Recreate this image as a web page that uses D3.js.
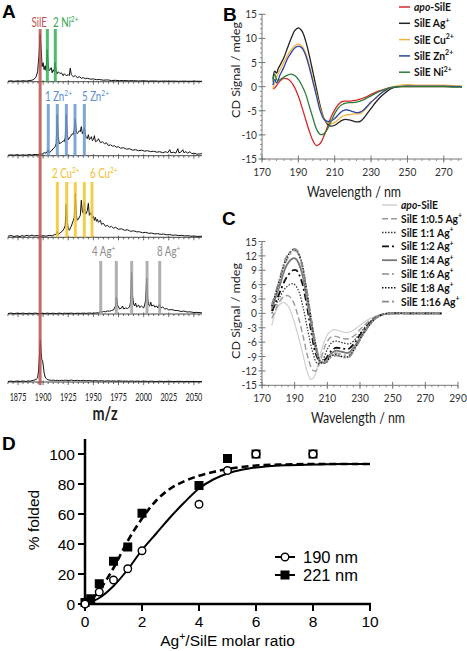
<!DOCTYPE html>
<html><head><meta charset="utf-8">
<script src="https://cdn.jsdelivr.net/npm/d3@7"></script>
<style>body{margin:0;background:#fff}svg{display:block}</style>
</head><body>
<svg id="c" width="467" height="651"></svg>
<script>
// ================= DATA =================
// Panel A: mass spectra (m/z, relative intensity)
const mzTicks = [1875,1900,1925,1950,1975,2000,2025,2050];
const traceNi = [[1865,0.5],[1868,0.9],[1871,0.4],[1874,0.8],[1877,0.5],[1880,1.0],[1883,0.6],[1886,1.1],[1889,1.5],[1891,2.5],[1893,5],[1894.5,10],[1896,28],[1897,48],[1898,33],[1899,15],[1900,19],[1901,12],[1902,16],[1903,11],[1904,32],[1905,17],[1906,11],[1907,12],[1908,14],[1909,9],[1910,12],[1911,10],[1912,19],[1913,10],[1914,8],[1915,10],[1917,8],[1918,9],[1920,6],[1921,8],[1923,6],[1925,7],[1926,6],[1927,13.5],[1928,7],[1930,5],[1932,6],[1934,4],[1936,5],[1938,3.5],[1940,4],[1942,3],[1944,3.5],[1947,2.5],[1950,2.8],[1953,2],[1956,2.2],[1960,1.5],[1964,1.8],[1968,1.2],[1972,1.4],[1976,1],[1980,1.2],[1985,0.9],[1990,1],[1995,0.7],[2000,0.9],[2005,0.6],[2010,0.8],[2015,0.5],[2020,0.7],[2025,0.5],[2030,0.6],[2035,0.4],[2040,0.6],[2045,0.4],[2050,0.5],[2058,0.4]];
const traceZn = [[1865,0.4],[1868,0.9],[1871,0.5],[1874,1],[1877,0.4],[1880,0.9],[1883,0.5],[1886,1.1],[1889,0.7],[1892,1.3],[1895,1],[1897,2],[1899,1.5],[1901,3],[1903,2.5],[1905,6],[1906,3],[1908,4.5],[1910,7],[1912,9],[1913,12],[1914,41],[1915,19],[1916,12],[1918,13],[1920,15],[1921,14],[1922,18],[1923,41],[1924,21],[1925,16],[1927,19],[1929,22],[1930,21],[1931,26],[1932,37],[1933,23],[1934,22],[1936,25],[1937,24],[1938,29],[1939,22],[1940,24],[1941,28],[1942,21],[1943,18],[1944,17],[1945,21],[1946,16],[1947,17],[1948,19],[1949,15],[1950,16],[1951,20],[1952,14],[1954,15],[1955,17],[1957,13],[1959,14],[1961,12],[1963,13],[1965,10],[1967,11],[1969,9.5],[1971,10],[1973,8.5],[1975,9],[1977,7.5],[1980,8],[1983,6.5],[1986,7],[1989,5.5],[1992,6],[1995,5],[1998,5.5],[2001,4.5],[2004,5],[2007,4],[2010,4.5],[2013,3.5],[2016,4],[2019,3],[2022,4],[2024,3],[2026,6],[2027,3],[2030,3.5],[2032,2.5],[2034,7],[2035,3],[2037,3.5],[2039,6],[2040,3],[2042,4],[2044,2.5],[2046,4],[2048,2],[2050,2.5],[2053,1.5],[2058,2]];
const traceCu = [[1865,1],[1868,1.8],[1871,0.8],[1874,1.5],[1877,0.7],[1879,1.8],[1881,1],[1884,2],[1886,1.2],[1889,2.2],[1891,1.3],[1894,1.8],[1897,1],[1900,1.6],[1903,1.1],[1906,2],[1909,1.5],[1911,2.5],[1913,3],[1914,6],[1915,3],[1917,4.5],[1919,6],[1921,9],[1922,12],[1923,33],[1924,15],[1925,9],[1926,7],[1928,11],[1930,17],[1931,20],[1932,44],[1933,22],[1934,17],[1935,18],[1937,22],[1938,37],[1939,26],[1940,24],[1941,35],[1942,23],[1943,24],[1944,27],[1945,34],[1946,22],[1947,23],[1948,25],[1949,19],[1950,21],[1951,17],[1952,20],[1953,16],[1954,18],[1955,15],[1957,17],[1958,13],[1960,14],[1962,11],[1964,12],[1966,10],[1968,11],[1970,9],[1972,10],[1975,8],[1978,8.5],[1981,7],[1984,7.5],[1987,6],[1990,6.5],[1993,5.5],[1996,5.5],[1999,4.5],[2002,5],[2005,4],[2008,4.2],[2011,3.4],[2014,3.6],[2017,3],[2020,3.2],[2023,2.5],[2026,2.7],[2029,2],[2032,2.3],[2035,1.7],[2038,2],[2041,1.4],[2044,1.6],[2047,1.1],[2050,1.3],[2053,0.9],[2058,1]];
const traceAg = [[1865,0.5],[1868,0.9],[1871,0.4],[1874,0.8],[1877,0.5],[1880,0.9],[1883,0.4],[1886,0.8],[1889,0.5],[1892,0.9],[1895,0.5],[1898,0.8],[1901,0.4],[1904,0.9],[1907,0.5],[1910,0.8],[1913,0.4],[1916,0.9],[1919,0.5],[1922,0.8],[1925,0.5],[1928,0.9],[1931,0.5],[1934,0.8],[1937,0.6],[1940,0.9],[1943,0.6],[1946,1],[1949,0.7],[1952,1],[1955,1.2],[1957,2.5],[1958,1.8],[1960,2.5],[1962,2.2],[1964,3],[1966,2.8],[1968,3.5],[1970,4],[1971,6],[1972,8],[1973,17],[1974,9],[1975,7],[1976,5],[1978,6],[1979,8],[1980,5],[1982,6],[1984,5.5],[1986,7],[1987,12],[1988,42],[1989,18],[1990,10],[1991,8],[1992,11],[1993,7],[1995,9],[1996,6.5],[1998,8],[2000,6],[2001,9],[2002,14],[2003,36],[2004,16],[2005,9],[2006,8],[2007,12],[2008,8],[2010,9],[2011,7],[2013,8],[2014,6],[2015,8],[2016,10],[2017,6],[2019,7],[2021,5],[2023,5.5],[2025,4],[2028,4.5],[2031,3.5],[2034,3.5],[2037,2.5],[2040,3],[2043,2],[2046,2.2],[2050,1.5],[2053,1.6],[2058,1.2]];
const traceApo = [[1865,0.5],[1868,0.9],[1871,0.5],[1874,0.9],[1877,0.6],[1880,1],[1883,0.6],[1885,1.1],[1887,0.8],[1889,1.4],[1891,1.8],[1893,2.5],[1894.5,4],[1895.5,12],[1896.5,30],[1897.3,42],[1898,30],[1898.7,22],[1899.5,21],[1900.3,15],[1901,9],[1902,5],[1903,3.5],[1904,2.5],[1906,2],[1908,1.6],[1910,1.9],[1912,1.4],[1914,1.7],[1916,1.3],[1918,1.8],[1920,1.4],[1922,1.8],[1925,1.5],[1928,1.9],[1931,1.4],[1934,1.7],[1937,1.3],[1940,1.6],[1943,1.2],[1946,1.5],[1949,1.1],[1952,1.4],[1955,1],[1958,1.3],[1961,0.9],[1964,1.2],[1967,0.9],[1970,1.1],[1973,0.8],[1976,1.1],[1979,0.8],[1982,1],[1985,0.7],[1988,1],[1991,0.7],[1994,0.9],[1997,0.6],[2000,0.9],[2004,0.6],[2008,0.8],[2012,0.5],[2016,0.8],[2020,0.5],[2025,0.7],[2030,0.5],[2035,0.7],[2040,0.5],[2045,0.6],[2050,0.4],[2058,0.5]];
const peakSilE = [1897];
const peaksNi = [1904.2,1912.1];
const peaksZn = [1905.1,1914.1,1923.1,1931.7,1941];
const peaksCu = [1914.1,1923.5,1932,1941,1948.6];
const peaksAg = [1957.3,1972.8,1988.1,2003.4,2016];

// Panel B: CD spectra with metals (nm, mdeg)
const bNames = ["apo-SilE","SilE Ag+","SilE Cu2+","SilE Zn2+","SilE Ni2+"];
const bApo = [[176,-0.5],[177,-0.3],[178,0.2],[180,1.2],[182,1.7],[184,1.6],[186,1],[188,-0.2],[190,-2],[192,-4.3],[194,-6.8],[196,-9.2],[198,-11.2],[200,-12.2],[202,-11.8],[204,-10.3],[206,-8.3],[208,-6.3],[210,-4.8],[212,-3.7],[214,-3.1],[216,-3],[218,-3],[220,-2.9],[222,-2.8],[224,-2.6],[226,-2.3],[228,-2],[230,-1.6],[233,-1.1],[236,-0.7],[240,-0.2],[245,0],[250,0],[260,0],[270,0],[280,0]];
const bAg = [[176,1.5],[177,3.2],[178,2.8],[179,3.8],[180,4.5],[182,6],[184,8],[186,10],[188,11.6],[190,12.2],[192,11.5],[194,9.5],[196,6.5],[198,3],[200,-0.5],[202,-4],[204,-6.5],[206,-7.8],[208,-8.2],[210,-8],[212,-7.5],[214,-7],[216,-6.8],[218,-6.9],[220,-7.1],[222,-7.3],[224,-7.2],[226,-6.5],[228,-5.5],[230,-4.5],[232,-3.5],[235,-2.2],[238,-1.2],[241,-0.4],[245,0],[250,0.1],[260,0.1],[270,0.1],[280,0]];
const bCu = [[176,-0.5],[177,0.8],[178,2],[180,3.5],[182,5],[184,6.5],[186,7.6],[188,8.5],[190,8.8],[192,8.4],[194,7],[196,4.5],[198,1.5],[200,-1.5],[202,-4.5],[204,-6.5],[206,-7.5],[208,-7.7],[210,-7.4],[212,-6.8],[214,-6.2],[216,-5.9],[218,-5.8],[220,-5.7],[222,-5.6],[224,-5.6],[226,-5],[228,-4.2],[230,-3.3],[233,-2.2],[236,-1.2],[240,-0.3],[245,0.2],[250,0.4],[255,0.3],[260,0.3],[270,0.3],[275,0.2],[280,0.1]];
const bZn = [[176,0.3],[177,1.5],[178,0.8],[180,2.5],[182,4],[184,5.8],[186,7],[188,8],[190,8.4],[192,8],[194,6.5],[196,4],[198,1],[200,-2],[202,-5],[204,-6.7],[206,-7.2],[208,-7.1],[210,-6.6],[212,-5.8],[214,-5.1],[216,-4.8],[218,-4.9],[220,-5.2],[222,-5.4],[224,-5.3],[226,-4.8],[228,-4],[230,-3.2],[233,-2.2],[236,-1.2],[240,-0.3],[245,0],[250,0.1],[260,0.1],[270,0.1],[280,0]];
const bNi = [[176,1],[177,2.6],[178,1.5],[179,1.2],[180,1.5],[182,2],[184,2.4],[186,2.6],[188,2.3],[190,1.5],[192,0.2],[194,-1.5],[196,-4],[198,-6.5],[200,-8.8],[202,-9.9],[204,-9.8],[206,-8.8],[208,-7.2],[210,-5.6],[212,-4.4],[214,-3.7],[216,-3.4],[218,-3.3],[220,-3.3],[222,-3.2],[224,-3],[226,-2.7],[228,-2.3],[230,-1.9],[233,-1.3],[236,-0.8],[240,-0.3],[245,0],[250,0],[260,0],[270,0],[275,-0.1],[280,-0.1]];
const bTicksX = [170,190,210,230,250,270];
const bTicksY = [-15,-10,-5,0,5,10,15];

// Panel C: Ag+ titration CD spectra (nm, mdeg)
const cNames = ["apo-SilE","SilE 1:0.5 Ag+","SilE 1:1 Ag+","SilE 1:2 Ag+","SilE 1:4 Ag+","SilE 1:6 Ag+","SilE 1:8 Ag+","SilE 1:16 Ag+"];
const cApo = [[176,-2.5],[178,0],[180,1.5],[183,2.3],[186,1.5],[189,-1],[192,-4.5],[195,-8.5],[198,-12.5],[200,-13.8],[202,-13.2],[205,-9.5],[208,-6],[211,-4],[214,-3.4],[218,-3.7],[222,-4],[226,-3.5],[230,-2.5],[235,-1.3],[240,-0.5],[245,-0.1],[250,0],[260,0],[270,0],[280,0]];
const c05 = [[176,-1],[178,0.5],[180,2],[183,3.4],[186,3.7],[189,2.5],[192,-0.5],[195,-4.5],[198,-9],[201,-11.8],[203,-12],[206,-9.5],[209,-6.5],[212,-5],[215,-4.8],[219,-5.2],[223,-5.3],[227,-4.5],[231,-3],[236,-1.5],[240,-0.6],[245,-0.1],[250,0],[260,0],[270,0],[280,0]];
const c1 = [[176,0],[178,1.5],[181,3.5],[185,5.5],[189,6.2],[192,5],[195,1.5],[198,-3.5],[201,-8],[204,-10.5],[207,-9.8],[210,-7.5],[213,-6],[216,-5.8],[220,-6.2],[224,-6.3],[228,-5],[232,-3.3],[236,-1.8],[240,-0.7],[245,-0.1],[250,0],[260,0],[270,0],[280,0]];
const c2 = [[176,0.5],[178,2],[181,4.5],[185,7.5],[189,9],[191,9],[194,7],[197,2.5],[200,-3.5],[203,-8.5],[206,-10.2],[209,-9.5],[212,-8],[215,-7.2],[219,-7.3],[223,-7.4],[227,-6],[231,-4],[236,-2],[240,-0.8],[245,-0.1],[250,0],[260,0],[270,0],[280,0]];
const c4 = [[176,1],[178,3],[181,6],[185,10],[189,11.5],[191,11.3],[194,9],[197,4],[200,-2],[203,-7.5],[206,-10.2],[209,-10],[212,-8.5],[215,-7.8],[219,-8],[223,-8.2],[227,-6.7],[231,-4.5],[236,-2.2],[240,-0.8],[245,-0.1],[250,0],[260,0],[270,0],[280,0]];
const c6 = [[176,1.5],[178,3.5],[181,7],[185,11],[189,13],[191,13],[194,10.5],[197,5],[200,-1.5],[203,-7],[206,-10.2],[209,-10.2],[212,-8.8],[215,-8.3],[219,-8.6],[223,-8.7],[227,-7],[231,-4.7],[236,-2.3],[240,-0.9],[245,-0.1],[250,0],[260,0],[270,0],[280,0]];
const c8 = [[176,1.5],[178,3.7],[181,7.3],[185,11.5],[189,13.3],[191,13.2],[194,11],[197,5.5],[200,-1],[203,-6.8],[206,-10.2],[209,-10.3],[212,-9],[215,-8.6],[219,-9],[223,-9],[227,-7.2],[231,-4.8],[236,-2.3],[240,-0.9],[245,-0.1],[250,0],[260,0],[270,0],[280,0]];
const c16 = [[176,1.8],[178,4],[181,7.5],[185,11.8],[189,13.4],[191,13.3],[194,11],[197,5.8],[200,-0.8],[203,-6.5],[206,-10],[209,-10.3],[212,-9.2],[215,-8.8],[219,-9.1],[223,-9.2],[227,-7.4],[231,-5],[236,-2.4],[240,-0.9],[245,-0.1],[250,0],[260,0],[270,0],[280,0]];
const cTicksX = [170,190,210,230,250,270,290];
const cTicksY = [-15,-12,-9,-6,-3,0,3,6,9,12,15];

// Panel D: % folded vs Ag+/SilE ratio
const d190pts = [[0,0],[0.5,8],[1,16],[1.5,23.5],[2,35.5],[4,66.5],[5,89],[6,100],[8,100]];
const d221pts = [[0,1],[0.2,3.5],[0.5,13.5],[1,28.5],[1.5,38],[2,60.5],[4,79],[5,97],[6,100],[8,100]];
const d190fit = [[0,0],[0.5,4],[1,12],[1.5,23],[2,36],[2.5,47],[3,58],[3.5,68],[4,77],[4.5,83],[5,87],[5.5,89.5],[6,91],[7,92.5],[8,93],[9,93.3],[10,93.3]];
const d221fit = [[0,0],[0.25,3.5],[0.5,9],[0.75,16],[1,24],[1.25,33],[1.5,42],[2,57],[2.5,69],[3,77],[3.5,82],[4,85.5],[4.5,88],[5,90],[5.5,91.3],[6,92.3],[7,93],[8,93.3],[10,93.3]];
const dTicksX = [0,2,4,6,8,10];
const dTicksY = [0,20,40,60,80,100];

// ================= DRAW =================
const svg = d3.select("#c");
const LATO = "Lato, 'Open Sans', sans-serif";
const ARIAL = "'Liberation Sans', Arial, sans-serif";

function txt(g, x, y, parts, o = {}) {
  const size = o.size || 12;
  const t = g.append("text")
    .attr("transform", `translate(${x},${y}) scale(${o.sx || 1},1)` + (o.rot ? ` rotate(${o.rot})` : ""))
    .attr("text-anchor", o.anchor || "start")
    .attr("font-family", o.font || LATO)
    .attr("font-size", size)
    .attr("font-weight", o.weight || "normal")
    .attr("fill", o.fill || "#222");
  if (typeof parts === "string") parts = [{t: parts}];
  let up = false;
  const sh = size * 0.38;
  parts.forEach(p => {
    const ts = t.append("tspan").text(p.t);
    if (p.sup) { ts.attr("font-size", size * 0.68); if (!up) ts.attr("dy", -sh); up = true; }
    else if (up) { ts.attr("dy", sh); up = false; }
    if (p.it) ts.attr("font-style", "italic");
  });
  return t;
}
function lbl(s) {
  const m = s.match(/^(.*?)(\d?[+-])$/);
  let parts = [];
  let base = m ? m[1] : s;
  if (base.startsWith("apo")) { parts.push({t: "apo", it: true}); base = base.slice(3); }
  parts.push({t: base});
  if (m) parts.push({t: m[2], sup: true});
  return parts;
}

// ---------- Panel A ----------
const gA = svg.append("g");
const xA = d3.scaleLinear().domain([1875, 2050]).range([18, 193.9]);
const baseY = [81.7, 155.7, 237.3, 314, 382];
const traces = [traceNi, traceZn, traceCu, traceAg, traceApo];
const mzMin = 1865, mzMax = 2058;

traces.forEach((tr, i) => {
  const yA = d3.scaleLinear().domain([0, 50]).range([baseY[i], baseY[i] - 50]);
  gA.append("line").attr("x1", xA(mzMin)).attr("x2", xA(mzMax)).attr("y1", baseY[i]).attr("y2", baseY[i])
    .attr("stroke", "#444").attr("stroke-width", 1);
  const minor = d3.range(1865, 2058, 5);
  gA.selectAll(null).data(minor).join("line")
    .attr("x1", d => xA(d)).attr("x2", d => xA(d))
    .attr("y1", d => baseY[i] - (d % 25 === 0 ? 1.5 : 0))
    .attr("y2", d => baseY[i] + (d % 25 === 0 ? 3 : 2))
    .attr("stroke", "#444").attr("stroke-width", 0.8);
  gA.append("path").datum(tr)
    .attr("d", d3.line().x(d => xA(d[0])).y(d => yA(d[1])))
    .attr("fill", "none").attr("stroke", "#111").attr("stroke-width", 1).attr("stroke-linejoin", "round");
});

function markers(arr, color, y1, y2) {
  gA.selectAll(null).data(arr).join("line")
    .attr("x1", d => xA(d)).attr("x2", d => xA(d)).attr("y1", y1).attr("y2", y2)
    .attr("stroke", color).attr("stroke-width", 3).attr("opacity", 0.85);
}
markers(peaksNi, "#2fb257", 29, baseY[0]);
markers(peaksZn, "#6a98d0", 104, baseY[1]);
markers(peaksCu, "#f5c52c", 182, baseY[2]);
markers(peaksAg, "#a3a3a3", 261, baseY[3]);
markers(peakSilE, "#b5524c", 29, 385);

const aOpt = {size: 12.5, sx: 0.78};
txt(gA, xA(peakSilE[0]) - 1, 27, "SilE", {...aOpt, anchor: "middle", fill: "#c0504d"});
txt(gA, 53, 27, [{t: "2 Ni"}, {t: "2+", sup: true}], {...aOpt, fill: "#2ea84f"});
txt(gA, 45, 101, [{t: "1 Zn"}, {t: "2+", sup: true}], {...aOpt, fill: "#5b8ed0"});
txt(gA, 82, 101, [{t: "5 Zn"}, {t: "2+", sup: true}], {...aOpt, fill: "#5b8ed0"});
txt(gA, 52, 178, [{t: "2 Cu"}, {t: "2+", sup: true}], {...aOpt, fill: "#f0be28"});
txt(gA, 90, 178, [{t: "6 Cu"}, {t: "2+", sup: true}], {...aOpt, fill: "#f0be28"});
txt(gA, 92, 256, [{t: "4 Ag"}, {t: "+", sup: true}], {...aOpt, fill: "#8a8a8a"});
txt(gA, 157, 256, [{t: "8 Ag"}, {t: "+", sup: true}], {...aOpt, fill: "#8a8a8a"});

mzTicks.forEach(t => txt(gA, xA(t), 401, String(t), {size: 12, sx: 0.6, anchor: "middle", fill: "#222"}));
txt(gA, 105, 420, "m/z", {size: 18, sx: 0.8, anchor: "middle", fill: "#222", weight: "bold"});
txt(gA, 2, 18, "A", {font: ARIAL, size: 19, weight: "bold", fill: "#000"});

// ---------- CD panel helper ----------
function cdPanel(o) {
  const g = svg.append("g");
  const x = d3.scaleLinear().domain(o.xd).range(o.xr);
  const y = d3.scaleLinear().domain([-15, 15]).range(o.yr);
  const ax = "#777";
  const x0 = x(o.xd[0]), yb = y(-15);
  g.append("line").attr("x1", x0).attr("x2", x0).attr("y1", y(15)).attr("y2", yb).attr("stroke", ax);
  g.append("line").attr("x1", x0).attr("x2", x(o.xd[1])).attr("y1", yb).attr("y2", yb).attr("stroke", ax);
  g.selectAll(null).data(d3.range(-15, 15.001, o.yMinor)).join("line")
    .attr("x1", x0 - 2).attr("x2", x0).attr("y1", d => y(d)).attr("y2", d => y(d)).attr("stroke", ax).attr("stroke-width", 0.8);
  g.selectAll(null).data(o.ticksY).join("line")
    .attr("x1", x0 - 3.5).attr("x2", x0 + 3.5).attr("y1", d => y(d)).attr("y2", d => y(d)).attr("stroke", ax);
  g.selectAll(null).data(d3.range(o.xd[0], o.xd[1] + 0.001, 4)).join("line")
    .attr("x1", d => x(d)).attr("x2", d => x(d)).attr("y1", yb).attr("y2", yb + 2).attr("stroke", ax).attr("stroke-width", 0.8);
  g.selectAll(null).data(o.ticksX).join("line")
    .attr("x1", d => x(d)).attr("x2", d => x(d)).attr("y1", yb - 3.5).attr("y2", yb + 3.5).attr("stroke", ax);
  o.ticksY.forEach(t => txt(g, x0 - 5, y(t) + 4, String(t), {size: 12, sx: 0.85, anchor: "end", fill: "#333"}));
  o.ticksX.forEach(t => txt(g, x(t), yb + 17, String(t), {size: 12, sx: 0.85, anchor: "middle", fill: "#333"}));
  txt(g, o.titleX, yb + 38, "Wavelength / nm", {size: 15.5, sx: 0.8, anchor: "middle", fill: "#222"});
  txt(g, o.ylabX, o.ylabY, "CD Signal / mdeg", {size: 12.5, sx: 0.85, rot: -90, anchor: "middle", fill: "#222"});
  txt(g, o.letterX, o.letterY, o.letter, {font: ARIAL, size: 19, weight: "bold", fill: "#000"});
  const line = d3.line().x(d => x(d[0])).y(d => y(d[1])).curve(d3.curveCatmullRom.alpha(0.5));
  o.series.forEach((s, i) => {
    const st = o.styles[i];
    g.append("path").datum(s).attr("d", line).attr("fill", "none")
      .attr("stroke", st.c).attr("stroke-width", st.w).attr("stroke-dasharray", st.d || null);
  });
  o.names.forEach((n, i) => {
    const ly = o.legY + i * o.legDy, st = o.styles[i];
    g.append("line").attr("x1", o.legX).attr("x2", o.legX + o.legL).attr("y1", ly).attr("y2", ly)
      .attr("stroke", st.c).attr("stroke-width", Math.max(st.w, 1.5)).attr("stroke-dasharray", st.d || null);
    txt(g, o.legX + o.legL + 4, ly + 4, lbl(n), {size: 12, sx: 0.86, fill: "#111", weight: "bold"});
  });
}

cdPanel({
  xd: [170, 280], xr: [262, 462], yr: [159, 14.3], yMinor: 1,
  ticksX: bTicksX, ticksY: bTicksY,
  series: [bApo, bAg, bCu, bZn, bNi], names: bNames,
  styles: [{c: "#d32a2a", w: 1.3}, {c: "#222", w: 1.3}, {c: "#f4b33c", w: 1.3}, {c: "#2b44a8", w: 1.3}, {c: "#2f7d3b", w: 1.3}],
  legX: 399, legY: 7, legDy: 16.3, legL: 11, titleX: 354,
  ylabX: 240, ylabY: 70, letter: "B", letterX: 223, letterY: 21
});
cdPanel({
  xd: [170, 290], xr: [262, 458], yr: [385.3, 241.5], yMinor: 0.6,
  ticksX: cTicksX, ticksY: cTicksY,
  series: [cApo, c05, c1, c2, c4, c6, c8, c16], names: cNames,
  styles: [{c: "#cfcfcf", w: 1.2}, {c: "#9a9a9a", w: 1.4, d: "6,3"}, {c: "#333", w: 1.2, d: "1.5,1.5"},
           {c: "#111", w: 1.8, d: "7,3,2,3"}, {c: "#777", w: 1.8}, {c: "#aaa", w: 1.8, d: "7,3,2,3"},
           {c: "#111", w: 1.5, d: "1.5,1.5"}, {c: "#888", w: 1.6, d: "7,3,2,3"}],
  legX: 382, legY: 205, legDy: 13.8, legL: 15, titleX: 358,
  ylabX: 240, ylabY: 311, letter: "C", letterX: 222, letterY: 225
});

// ---------- Panel D ----------
const gD = svg.append("g");
const xD = d3.scaleLinear().domain([0, 10]).range([85, 370]);
const yD = d3.scaleLinear().domain([0, 100]).range([604, 454]);
gD.append("line").attr("x1", xD(0)).attr("x2", xD(0)).attr("y1", yD(110)).attr("y2", yD(0) + 1).attr("stroke", "#000").attr("stroke-width", 2.5);
gD.append("line").attr("x1", xD(0) - 1).attr("x2", xD(10) + 1).attr("y1", yD(0)).attr("y2", yD(0)).attr("stroke", "#000").attr("stroke-width", 2.5);
dTicksY.forEach(t => {
  gD.append("line").attr("x1", xD(0) - 7).attr("x2", xD(0)).attr("y1", yD(t)).attr("y2", yD(t)).attr("stroke", "#000").attr("stroke-width", 2);
  txt(gD, xD(0) - 10, yD(t) + 5.5, String(t), {font: ARIAL, size: 15.5, anchor: "end", fill: "#000"});
});
dTicksX.forEach(t => {
  gD.append("line").attr("x1", xD(t)).attr("x2", xD(t)).attr("y1", yD(0)).attr("y2", yD(0) + 7).attr("stroke", "#000").attr("stroke-width", 2);
  txt(gD, xD(t), yD(0) + 23, String(t), {font: ARIAL, size: 15.5, anchor: "middle", fill: "#000"});
});
txt(gD, (xD(0) + xD(10)) / 2, 646, [{t: "Ag"}, {t: "+", sup: true}, {t: "/SilE molar ratio"}], {font: ARIAL, size: 15.5, anchor: "middle", fill: "#000"});
txt(gD, 39, (yD(0) + yD(100)) / 2 - 9, "% folded", {font: ARIAL, size: 15.5, anchor: "middle", rot: -90, fill: "#000"});
txt(gD, 2, 450, "D", {font: ARIAL, size: 19, weight: "bold", fill: "#000"});

const lineD = d3.line().x(d => xD(d[0])).y(d => yD(d[1])).curve(d3.curveMonotoneX);
gD.append("path").datum(d190fit).attr("d", lineD).attr("fill", "none").attr("stroke", "#000").attr("stroke-width", 2);
gD.append("path").datum(d221fit).attr("d", lineD).attr("fill", "none").attr("stroke", "#000").attr("stroke-width", 2.6).attr("stroke-dasharray", "7,4");
gD.selectAll(null).data(d221pts).join("rect")
  .attr("x", d => xD(d[0]) - 4.5).attr("y", d => yD(d[1]) - 4.5).attr("width", 9).attr("height", 9).attr("fill", "#000");
gD.selectAll(null).data(d190pts).join("circle")
  .attr("cx", d => xD(d[0])).attr("cy", d => yD(d[1])).attr("r", 3.8).attr("fill", "#fff").attr("stroke", "#000").attr("stroke-width", 1.4);
const legD = [{n: "190 nm", y: 557, m: "c"}, {n: "221 nm", y: 575, m: "s"}];
legD.forEach(l => {
  gD.append("line").attr("x1", 275).attr("x2", 295).attr("y1", l.y).attr("y2", l.y).attr("stroke", "#000").attr("stroke-width", 2);
  if (l.m === "c") gD.append("circle").attr("cx", 285).attr("cy", l.y).attr("r", 3.8).attr("fill", "#fff").attr("stroke", "#000").attr("stroke-width", 1.4);
  else gD.append("rect").attr("x", 280.5).attr("y", l.y - 4.5).attr("width", 9).attr("height", 9).attr("fill", "#000");
  txt(gD, 303, l.y + 6, l.n, {font: ARIAL, size: 16.5, fill: "#000"});
});
</script>
</body></html>
